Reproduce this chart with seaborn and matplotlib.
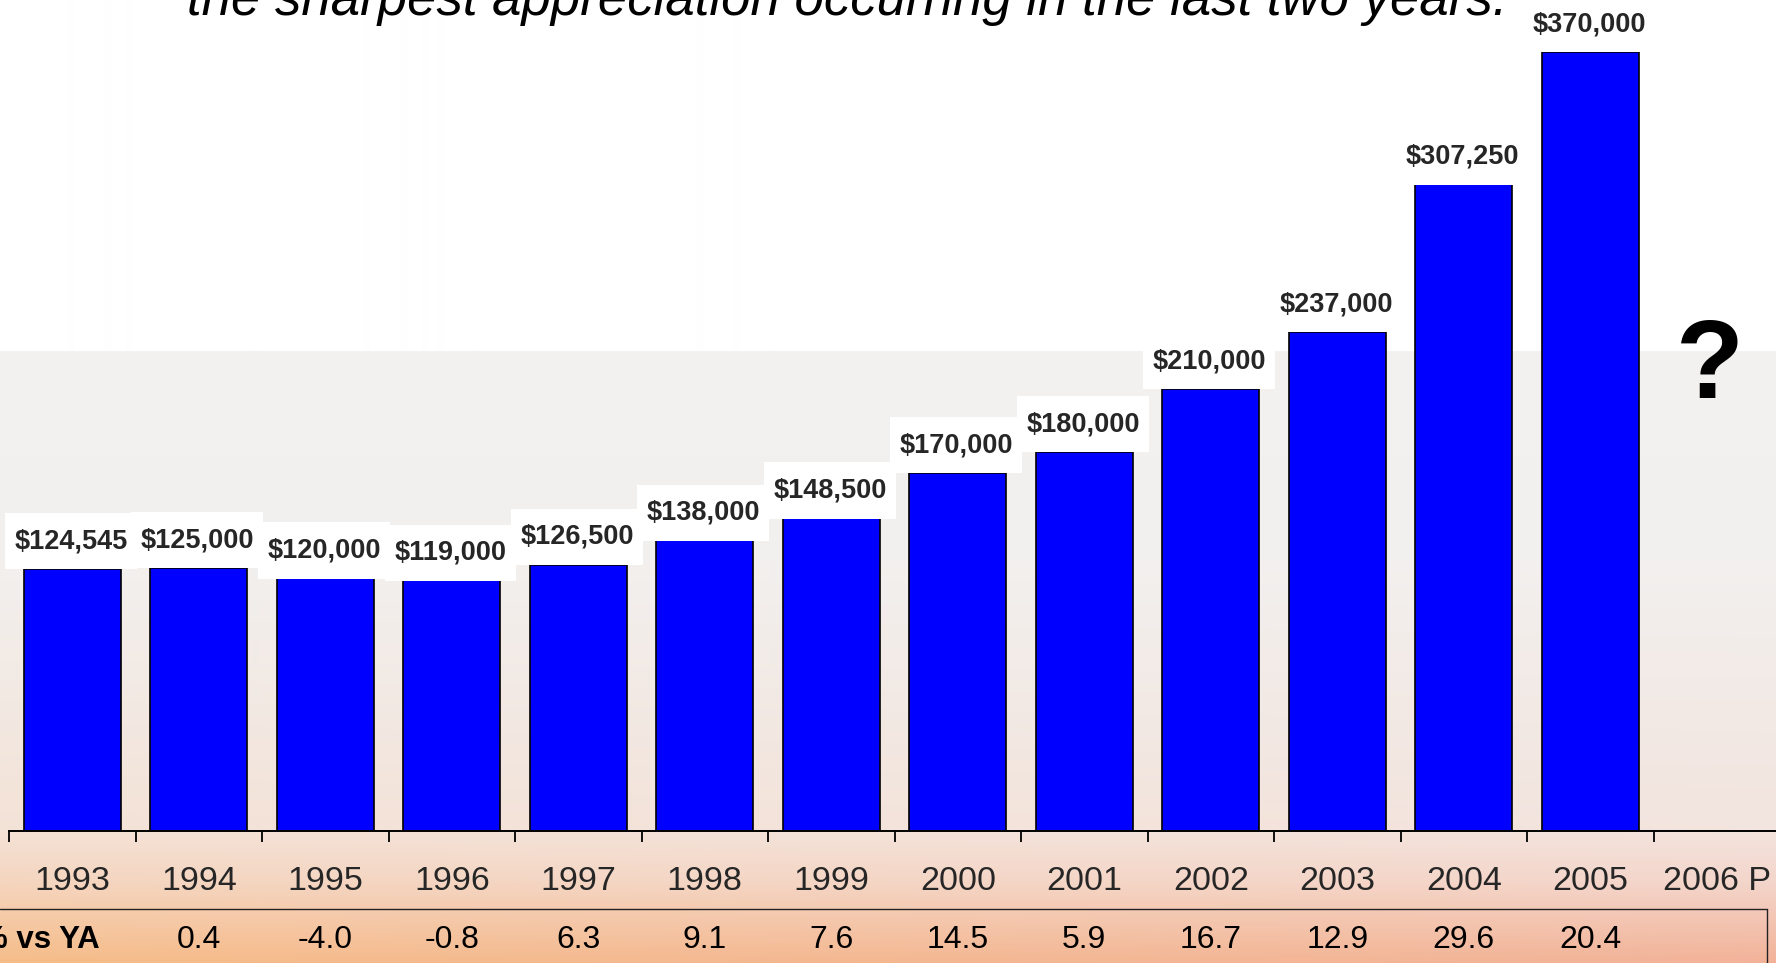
import numpy as np
import pandas as pd
import matplotlib
matplotlib.use("Agg")
import matplotlib.pyplot as plt
from matplotlib.lines import Line2D
from matplotlib.path import Path
from matplotlib.transforms import blended_transform_factory
import seaborn as sns

# ---- data -------------------------------------------------------------
years = ["1993", "1994", "1995", "1996", "1997", "1998", "1999",
         "2000", "2001", "2002", "2003", "2004", "2005", "2006 P"]
prices = [124545, 125000, 120000, 119000, 126500, 138000, 148500,
          170000, 180000, 210000, 237000, 307250, 370000]
yoy_pct = [0.4, -4.0, -0.8, 6.3, 9.1, 7.6, 14.5, 5.9, 16.7, 12.9, 29.6, 20.4]
yoy_label = "% vs YA"
subtitle = "the sharpest appreciation occurring in the last two years."
forecast_mark = "?"

df = pd.DataFrame({"year": years[:len(prices)], "price": prices})

# ---- style ------------------------------------------------------------
sns.set_style("white")
plt.rcParams["font.family"] = ["Liberation Sans", "DejaVu Sans"]

W, H = 1776, 963
fig = plt.figure(figsize=(W / 100, H / 100), dpi=100, facecolor="white")


def fy(px):
    return 1 - px / H


# background: white upper band, warm gradient below
stops_y = [0, 351, 352, 560, 700, 830, 880, 963]
left_c = np.array([[255, 255, 255], [255, 255, 255], [243, 242, 241], [242, 240, 238],
                   [242, 233, 227], [244, 226, 214], [245, 214, 192], [246, 188, 136]])
right_c = np.array([[255, 255, 255], [255, 255, 255], [243, 242, 241], [242, 240, 239],
                    [242, 234, 230], [243, 228, 222], [244, 214, 204], [242, 178, 152]])
rows = np.arange(H)
ncol = 240
img = np.zeros((H, ncol, 3))
t = np.linspace(0, 1, ncol)
for ch in range(3):
    lc = np.interp(rows, stops_y, left_c[:, ch])
    rc = np.interp(rows, stops_y, right_c[:, ch])
    img[:, :, ch] = lc[:, None] * (1 - t[None, :]) + rc[:, None] * t[None, :]
img = img / 255.0
bg = fig.add_axes([0, 0, 1, 1], zorder=-1)
bg.imshow(img, aspect="auto", extent=[0, 1, 0, 1], interpolation="nearest")
bg.set_axis_off()

# main axes
ax = fig.add_axes([9 / W, fy(831), 1 - 9 / W, 831 / H])
ax.set_facecolor("none")

sns.barplot(data=df, x="year", y="price", order=years, color="#0000ff",
            saturation=1, width=0.77, edgecolor="black", linewidth=1.2,
            errorbar=None, ax=ax)

px_per_cat = 126.5
ax.set_xlim(-0.5, -0.5 + (W - 9) / px_per_cat)
ax.set_ylim(0, max(prices) * 831 / 779)

for side in ["left", "top", "right"]:
    ax.spines[side].set_visible(False)
ax.spines["bottom"].set_linewidth(1.4)
ax.spines["bottom"].set_color("black")
ax.set_yticks([])
ax.set_xlabel("")
ax.set_ylabel("")

ax.set_xticks(range(len(years)))
ax.set_xticklabels(years, fontsize=24.5)
ax.tick_params(axis="x", which="major", bottom=True, length=0, pad=25)
ax.set_xticks([i - 0.5 for i in range(len(years))], minor=True)
ax.tick_params(axis="x", which="minor", bottom=True, length=8, width=1.3,
               color="black", direction="out")


# label box: wider vertical padding than horizontal
def label_box(x0, y0, width, height, mutation_size):
    px_ = 0.34 * mutation_size
    py_ = 0.56 * mutation_size
    x0, y0 = x0 - px_, y0 - py_
    x1, y1 = x0 + width + 2 * px_, y0 + height + 2 * py_
    return Path([(x0, y0), (x1, y0), (x1, y1), (x0, y1), (x0, y0)],
                closed=True)


bars = [p for p in ax.patches if p.get_height() > 0]
for bar, val in zip(bars, prices):
    ax.annotate(f"${val:,.0f}",
                xy=(bar.get_x() + bar.get_width() / 2, val),
                xytext=(-1, 20), textcoords="offset points",
                ha="center", va="center", fontsize=19.5, fontweight="bold",
                bbox=dict(boxstyle=label_box, facecolor="white",
                          edgecolor="none"), zorder=5)

# forecast year marker
tr_q = blended_transform_factory(ax.transData, fig.transFigure)
ax.annotate(forecast_mark, xy=(len(years) - 1, fy(398)), xycoords=tr_q,
            xytext=(-5, 0), textcoords="offset points",
            ha="center", va="baseline", fontsize=80, fontweight="bold",
            color="black")

# year-over-year row
row_y = fy(940)
for i, v in enumerate(yoy_pct, start=1):
    ax.text(i, row_y, f"{v:.1f}", transform=tr_q, ha="center",
            va="center", fontsize=23, color="black")
fig.text(100 / W, row_y, yoy_label, ha="right", va="center", fontsize=22.5,
         fontweight="bold", color="black")
fig.add_artist(Line2D([0, 1767 / W], [fy(909), fy(909)],
                      transform=fig.transFigure, color="#222222", lw=1.0))
fig.add_artist(Line2D([1767 / W, 1767 / W], [fy(909), 0],
                      transform=fig.transFigure, color="#222222", lw=1.0))

# subtitle running off the top edge
fig.text(847 / W, fy(15), subtitle, ha="center", va="baseline",
         fontsize=38, style="italic", color="black")

fig.savefig("out.png", dpi=100)
